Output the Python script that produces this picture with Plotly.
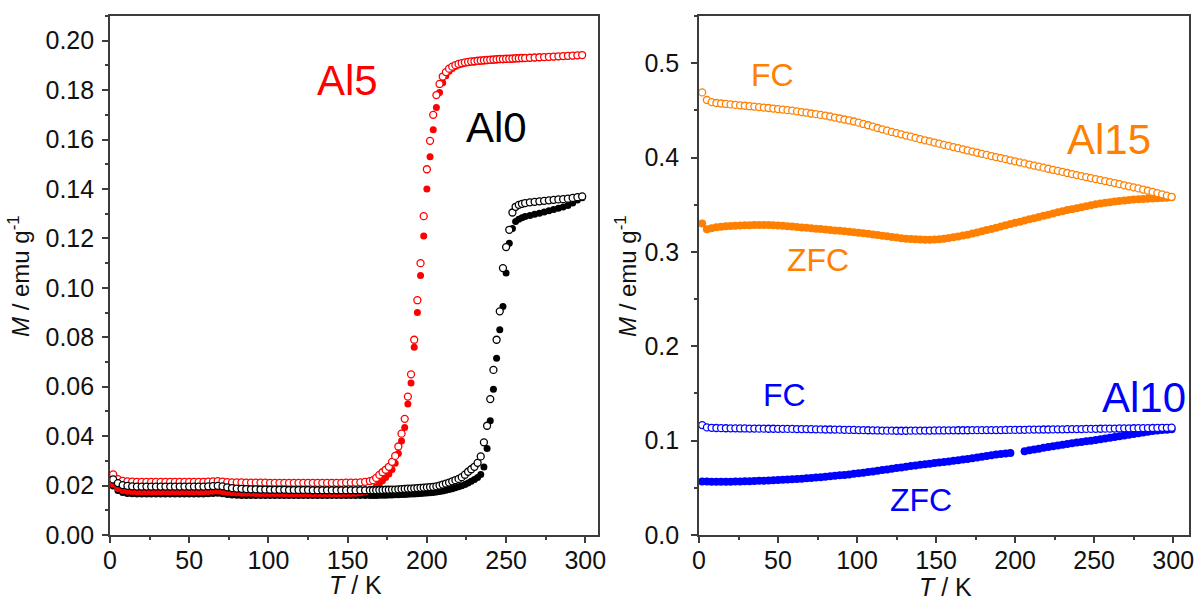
import plotly.graph_objects as go

# ---------------- data: left panel (Al0, Al5) ----------------
T_left = [2, 5, 8, 11, 14, 17, 20, 23, 26, 29,
          32, 35, 38, 41, 44, 47, 50, 53, 56, 59,
          62, 65, 68, 71, 74, 77, 80, 83, 86, 89,
          92, 95, 98, 101, 104, 107, 110, 113, 116, 119,
          122, 125, 128, 131, 134, 137, 140, 143, 146, 149,
          152, 155, 158, 161, 164,
          166, 168, 170, 172, 174, 176, 178, 180, 182, 184,
          186, 188, 190, 192, 194, 196, 198, 200, 202, 204,
          206, 208, 210, 212, 214, 216, 218, 220, 222, 224,
          226, 228, 230, 232, 234, 236, 238, 240, 242, 244,
          246, 248, 250, 252, 254, 256, 258, 260, 262,
          265, 268, 271, 274, 277, 280, 283, 286, 289, 292, 295, 298]

al5_fc = [0.0245, 0.0226, 0.0219, 0.0217, 0.0216, 0.0215, 0.0215, 0.0215, 0.0215, 0.0215,
          0.0215, 0.0215, 0.0215, 0.0215, 0.0215, 0.0215, 0.0215, 0.0215, 0.0215, 0.0215,
          0.0216, 0.0217, 0.0218, 0.0216, 0.0214, 0.0213, 0.0213, 0.0213, 0.0212, 0.0212,
          0.0212, 0.0212, 0.0212, 0.0211, 0.0211, 0.0211, 0.0211, 0.0211, 0.0211, 0.0211,
          0.0211, 0.0211, 0.0211, 0.0211, 0.0211, 0.0211, 0.0211, 0.0211, 0.0211, 0.0212,
          0.0212, 0.0212, 0.0213, 0.0215, 0.0218,
          0.0222, 0.0231, 0.0243, 0.0254, 0.0264, 0.0276, 0.0296, 0.0320, 0.0358, 0.0410,
          0.0470, 0.0560, 0.0650, 0.0790, 0.0950, 0.1100, 0.1290, 0.1480, 0.1595, 0.1700,
          0.1780, 0.1825, 0.1855, 0.1873, 0.1887, 0.1895, 0.1901, 0.1906, 0.1909, 0.1912,
          0.1914, 0.1916, 0.1917, 0.1919, 0.1920, 0.1921, 0.1922, 0.1923, 0.1924, 0.1925,
          0.1926, 0.1926, 0.1927, 0.1927, 0.1928, 0.1929, 0.1929, 0.1930, 0.1930,
          0.1931, 0.1932, 0.1933, 0.1934, 0.1935, 0.1936, 0.1937, 0.1938, 0.1939, 0.1940, 0.1941, 0.1942]

al5_zfc = [0.0205, 0.0188, 0.0180, 0.0177, 0.0176, 0.0175, 0.0175, 0.0175, 0.0175, 0.0175,
           0.0175, 0.0175, 0.0175, 0.0175, 0.0175, 0.0175, 0.0175, 0.0175, 0.0175, 0.0175,
           0.0176, 0.0177, 0.0178, 0.0176, 0.0173, 0.0171, 0.0170, 0.0169, 0.0169, 0.0169,
           0.0168, 0.0168, 0.0168, 0.0168, 0.0168, 0.0168, 0.0167, 0.0167, 0.0167, 0.0167,
           0.0167, 0.0167, 0.0167, 0.0167, 0.0167, 0.0167, 0.0167, 0.0167, 0.0167, 0.0168,
           0.0168, 0.0169, 0.0171, 0.0174, 0.0179,
           0.0185, 0.0195, 0.0207, 0.0220, 0.0233, 0.0247, 0.0265, 0.0290, 0.0330, 0.0380,
           0.0435, 0.0530, 0.0615, 0.0760, 0.0900, 0.1050, 0.1210, 0.1400, 0.1530, 0.1640,
           0.1730, 0.1790, 0.1830, 0.1858, 0.1876, 0.1888, 0.1896, 0.1902, 0.1906, 0.1909,
           0.1911, 0.1913, 0.1914, 0.1916, 0.1917, 0.1918, 0.1919, 0.1920, 0.1921, 0.1922,
           0.1923, 0.1923, 0.1924, 0.1925, 0.1925, 0.1926, 0.1927, 0.1927, 0.1928,
           0.1929, 0.1930, 0.1931, 0.1932, 0.1933, 0.1934, 0.1935, 0.1936, 0.1937, 0.1938, 0.1940, 0.1941]

al0_fc = [0.0225, 0.0210, 0.0202, 0.0199, 0.0197, 0.0196, 0.0196, 0.0196, 0.0196, 0.0196,
          0.0196, 0.0196, 0.0196, 0.0196, 0.0196, 0.0196, 0.0196, 0.0196, 0.0196, 0.0196,
          0.0197, 0.0198, 0.0199, 0.0197, 0.0193, 0.0190, 0.0188, 0.0187, 0.0186, 0.0185,
          0.0185, 0.0184, 0.0184, 0.0183, 0.0183, 0.0183, 0.0183, 0.0182, 0.0182, 0.0182,
          0.0182, 0.0182, 0.0181, 0.0181, 0.0181, 0.0181, 0.0181, 0.0181, 0.0181, 0.0181,
          0.0181, 0.0181, 0.0181, 0.0181, 0.0181,
          0.0181, 0.0181, 0.0182, 0.0182, 0.0183, 0.0183, 0.0184, 0.0184, 0.0185, 0.0186,
          0.0187, 0.0188, 0.0188, 0.0189, 0.0190, 0.0191, 0.0192, 0.0193, 0.0194, 0.0195,
          0.0197, 0.0200, 0.0204, 0.0208, 0.0212, 0.0217, 0.0222, 0.0227, 0.0234, 0.0244,
          0.0256, 0.0266, 0.0276, 0.0292, 0.0318, 0.0375, 0.0442, 0.0550, 0.0668, 0.0790,
          0.0905, 0.1080, 0.1165, 0.1235, 0.1305, 0.1328, 0.1336, 0.1340, 0.1343,
          0.1346, 0.1348, 0.1350, 0.1352, 0.1354, 0.1356, 0.1358, 0.1359, 0.1361, 0.1364, 0.1367, 0.1370]

al0_zfc = [0.0198, 0.0180, 0.0172, 0.0168, 0.0167, 0.0166, 0.0166, 0.0166, 0.0166, 0.0166,
           0.0166, 0.0166, 0.0166, 0.0166, 0.0166, 0.0166, 0.0166, 0.0166, 0.0166, 0.0166,
           0.0167, 0.0168, 0.0169, 0.0167, 0.0164, 0.0162, 0.0161, 0.0160, 0.0160, 0.0160,
           0.0160, 0.0160, 0.0160, 0.0160, 0.0160, 0.0160, 0.0160, 0.0160, 0.0160, 0.0160,
           0.0160, 0.0160, 0.0160, 0.0160, 0.0160, 0.0160, 0.0160, 0.0160, 0.0160, 0.0160,
           0.0160, 0.0160, 0.0160, 0.0160, 0.0160,
           0.0160, 0.0160, 0.0161, 0.0161, 0.0161, 0.0162, 0.0162, 0.0163, 0.0163, 0.0164,
           0.0164, 0.0165, 0.0166, 0.0166, 0.0167, 0.0168, 0.0169, 0.0170, 0.0171, 0.0172,
           0.0174, 0.0176, 0.0178, 0.0181, 0.0184, 0.0187, 0.0191, 0.0195, 0.0199, 0.0204,
           0.0210, 0.0217, 0.0225, 0.0233, 0.0245, 0.0275, 0.0350, 0.0462, 0.0590, 0.0715,
           0.0830, 0.0925, 0.1060, 0.1180, 0.1240, 0.1268, 0.1278, 0.1284, 0.1289,
           0.1293, 0.1298, 0.1302, 0.1307, 0.1312, 0.1317, 0.1322, 0.1327, 0.1333, 0.1343, 0.1355, 0.1365]

# ---------------- data: right panel (Al10, Al15) ----------------
T_right = [2, 5, 8, 11, 14, 17, 20, 23, 26, 29,
           32, 35, 38, 41, 44, 47, 50, 53, 56, 59,
           62, 65, 68, 71, 74, 77, 80, 83, 86, 89,
           92, 95, 98, 101, 104, 107, 110, 113, 116, 119,
           122, 125, 128, 131, 134, 137, 140, 143, 146, 149,
           152, 155, 158, 161, 164, 167, 170, 173, 176, 179,
           182, 185, 188, 191, 194, 197, 200, 203, 206, 209,
           212, 215, 218, 221, 224, 227, 230, 233, 236, 239,
           242, 245, 248, 251, 254, 257, 260, 263, 266, 269,
           272, 275, 278, 281, 284, 287, 290, 293, 296, 299]

al15_fc = [0.469, 0.461, 0.4588, 0.4578, 0.4573, 0.4568, 0.4563, 0.4558, 0.4553, 0.4549,
           0.4544, 0.4540, 0.4535, 0.4530, 0.4525, 0.4519, 0.4514, 0.4508, 0.4502, 0.4497,
           0.4490, 0.4482, 0.4475, 0.4467, 0.4460, 0.4452, 0.4445, 0.4435, 0.4424, 0.4414,
           0.4403, 0.4393, 0.4382, 0.4370, 0.4356, 0.4342, 0.4328, 0.4313, 0.4299, 0.4285,
           0.4271, 0.4259, 0.4246, 0.4233, 0.4221, 0.4208, 0.4195, 0.4183, 0.4171, 0.4159,
           0.4147, 0.4135, 0.4123, 0.4111, 0.4099, 0.4087, 0.4075, 0.4063, 0.4051, 0.4039,
           0.4028, 0.4016, 0.4005, 0.3994, 0.3983, 0.3971, 0.3960, 0.3949, 0.3938, 0.3926,
           0.3915, 0.3904, 0.3893, 0.3881, 0.3870, 0.3859, 0.3848, 0.3836, 0.3825, 0.3814,
           0.3803, 0.3793, 0.3782, 0.3772, 0.3761, 0.3751, 0.3740, 0.3729, 0.3718, 0.3706,
           0.3695, 0.3684, 0.3673, 0.3661, 0.3648, 0.3636, 0.3623, 0.3610, 0.3597, 0.3584]

al15_zfc = [0.330, 0.3240, 0.3250, 0.3260, 0.3266, 0.3271, 0.3275, 0.3278, 0.3280, 0.3282,
            0.3283, 0.3284, 0.3284, 0.3284, 0.3284, 0.3282, 0.3279, 0.3276, 0.3272, 0.3268,
            0.3263, 0.3259, 0.3255, 0.3250, 0.3246, 0.3242, 0.3237, 0.3233, 0.3228, 0.3223,
            0.3218, 0.3213, 0.3208, 0.3203, 0.3198, 0.3192, 0.3185, 0.3178, 0.3172, 0.3165,
            0.3159, 0.3153, 0.3146, 0.3140, 0.3136, 0.3133, 0.3131, 0.3130, 0.3130, 0.3132,
            0.3135, 0.3140, 0.3147, 0.3155, 0.3164, 0.3173, 0.3182, 0.3194, 0.3207, 0.3219,
            0.3232, 0.3244, 0.3257, 0.3270, 0.3283, 0.3295, 0.3308, 0.3320, 0.3333, 0.3345,
            0.3357, 0.3369, 0.3382, 0.3394, 0.3407, 0.3419, 0.3431, 0.3443, 0.3453, 0.3463,
            0.3474, 0.3484, 0.3494, 0.3504, 0.3514, 0.3521, 0.3527, 0.3533, 0.3539, 0.3545,
            0.3551, 0.3556, 0.3559, 0.3561, 0.3564, 0.3566, 0.3568, 0.3571, 0.3573, 0.3580]

al10_fc = [0.1165, 0.1140, 0.1136, 0.1134, 0.1132, 0.1131, 0.1130, 0.1130, 0.1129, 0.1129,
           0.1128, 0.1128, 0.1127, 0.1127, 0.1126, 0.1126, 0.1125, 0.1125, 0.1124, 0.1124,
           0.1123, 0.1123, 0.1122, 0.1121, 0.1120, 0.1119, 0.1118, 0.1118, 0.1117, 0.1116,
           0.1115, 0.1114, 0.1113, 0.1112, 0.1111, 0.1110, 0.1109, 0.1108, 0.1107, 0.1106,
           0.1106, 0.1105, 0.1105, 0.1105, 0.1106, 0.1106, 0.1107, 0.1107, 0.1107, 0.1108,
           0.1108, 0.1108, 0.1109, 0.1109, 0.1110, 0.1110, 0.1110, 0.1111, 0.1111, 0.1111,
           0.1112, 0.1112, 0.1112, 0.1112, 0.1113, 0.1114, 0.1114, 0.1115, 0.1115, 0.1116,
           0.1117, 0.1117, 0.1118, 0.1118, 0.1119, 0.1120, 0.1120, 0.1121, 0.1122, 0.1122,
           0.1123, 0.1124, 0.1124, 0.1125, 0.1126, 0.1127, 0.1127, 0.1128, 0.1129, 0.1130,
           0.1130, 0.1131, 0.1132, 0.1133, 0.1133, 0.1134, 0.1135, 0.1136, 0.1136, 0.1137]

al10_zfc = [0.0568, 0.0566, 0.0565, 0.0565, 0.0565, 0.0565, 0.0565, 0.0566, 0.0567, 0.0569,
            0.0570, 0.0572, 0.0574, 0.0576, 0.0578, 0.0580, 0.0582, 0.0585, 0.0588, 0.0591,
            0.0594, 0.0597, 0.0601, 0.0605, 0.0609, 0.0613, 0.0617, 0.0622, 0.0627, 0.0632,
            0.0637, 0.0642, 0.0648, 0.0654, 0.0660, 0.0667, 0.0674, 0.0681, 0.0688, 0.0695,
            0.0702, 0.0709, 0.0716, 0.0723, 0.0730, 0.0737, 0.0744, 0.0750, 0.0756, 0.0762,
            0.0768, 0.0774, 0.0780, 0.0786, 0.0792, 0.0799, 0.0806, 0.0813, 0.0821, 0.0829,
            0.0837, 0.0845, 0.0852, 0.0859, 0.0865, 0.0870, None, None, 0.0888, 0.0897,
            0.0906, 0.0915, 0.0924, 0.0932, 0.0940, 0.0948, 0.0956, 0.0964, 0.0972, 0.0979,
            0.0986, 0.0993, 0.1000, 0.1008, 0.1016, 0.1023, 0.1031, 0.1039, 0.1047, 0.1055,
            0.1063, 0.1071, 0.1079, 0.1087, 0.1094, 0.1101, 0.1107, 0.1112, 0.1116, 0.1120]

# ---------------- styling ----------------
W, H = 1200, 601
RED, BLACK, ORANGE, BLUE = "#ff0000", "#000000", "#ff8000", "#0000ff"
AXC = "#3c3c3c"
FONT = "Liberation Sans, Arial, sans-serif"


def px_x(p):
    return p / W


def px_y(p):
    return 1 - p / H


fig = go.Figure()


def filled(x, y, color, xa, ya, size=7):
    fig.add_trace(go.Scatter(x=x, y=y, mode="markers", xaxis=xa, yaxis=ya,
                             cliponaxis=False, showlegend=False,
                             marker=dict(symbol="circle", size=size, color=color,
                                         line=dict(width=0))))


def ring(x, y, color, xa, ya, size=7):
    fig.add_trace(go.Scatter(x=x, y=y, mode="markers", xaxis=xa, yaxis=ya,
                             cliponaxis=False, showlegend=False,
                             marker=dict(symbol="circle", size=size, color="white",
                                         line=dict(width=1.3, color=color))))


# left panel
filled(T_left, al0_zfc, BLACK, "x", "y")
filled(T_left, al5_zfc, RED, "x", "y")
ring(T_left, al5_fc, RED, "x", "y")
ring(T_left, al0_fc, BLACK, "x", "y")

# right panel
filled(T_right, al15_zfc, ORANGE, "x2", "y2", size=8)
ring(T_right, al15_fc, ORANGE, "x2", "y2")
filled(T_right, al10_zfc, BLUE, "x2", "y2", size=8)
ring(T_right, al10_fc, BLUE, "x2", "y2")

ydom = [px_y(535), px_y(16)]

common = dict(showline=True, linecolor=AXC, linewidth=1.6, mirror=True,
              ticks="outside", ticklen=6, tickwidth=1.5, tickcolor=AXC,
              showgrid=False, zeroline=False, automargin=False,
              tickfont=dict(family=FONT, size=25, color="#111"))
minor_c = dict(ticks="outside", ticklen=3.5, tickwidth=1.5, tickcolor=AXC)

fig.update_layout(
    width=W, height=H,
    margin=dict(l=0, r=0, t=0, b=0),
    paper_bgcolor="white", plot_bgcolor="white",
    font=dict(family=FONT),
    xaxis=dict(domain=[px_x(110), px_x(598)], range=[0, 308], tick0=0, dtick=50,
               anchor="y", ticklabelstandoff=-4, minor=dict(dtick=25, **minor_c), **common),
    yaxis=dict(domain=ydom, range=[0, 0.21], tick0=0, dtick=0.02, tickformat=".2f",
               anchor="x", ticklabelstandoff=3, minor=dict(dtick=0.01, **minor_c), **common),
    xaxis2=dict(domain=[px_x(699), px_x(1189)], range=[0, 310], tick0=0, dtick=50,
                anchor="y2", ticklabelstandoff=-4, minor=dict(dtick=25, **minor_c), **common),
    yaxis2=dict(domain=ydom, range=[0, 0.55], tick0=0, dtick=0.1, tickformat=".1f",
                anchor="x2", ticklabelstandoff=7, minor=dict(dtick=0.05, **minor_c), **common),
)


def label(text, cx, cy, color, size, angle=0):
    fig.add_annotation(text=text, x=px_x(cx), y=px_y(cy), xref="paper", yref="paper",
                       xanchor="center", yanchor="middle", showarrow=False,
                       textangle=angle,
                       font=dict(family=FONT, size=size, color=color))


# curve labels
label("Al5", 347, 80, RED, 42)
label("Al0", 496, 127, BLACK, 42)
label("FC", 772, 75, ORANGE, 32)
label("ZFC", 818, 260, ORANGE, 32)
label("Al15", 1109, 139, ORANGE, 42)
label("Al10", 1144, 397, BLUE, 42)
label("FC", 784, 395, BLUE, 32)
label("ZFC", 921, 500, BLUE, 32)

# axis titles
label("<i>T</i> / K", 355, 585, "#111", 25)
label("<i>T</i> / K", 945, 587, "#111", 25)
label("<i>M</i> / emu g<sup>-1</sup>", 19, 276, "#111", 24, angle=-90)
label("<i>M</i> / emu g<sup>-1</sup>", 626, 276, "#111", 24, angle=-90)

fig.write_html("out.html", config={"displayModeBar": False},
               post_script="document.body.style.margin='0';document.body.style.overflow='hidden';")
